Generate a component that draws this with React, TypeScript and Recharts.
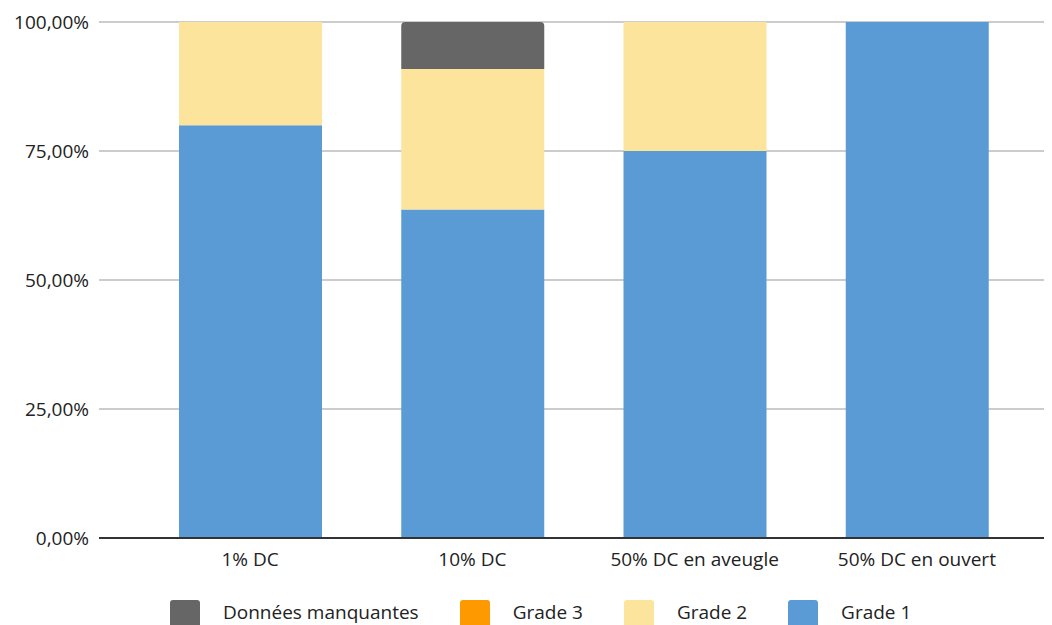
import { Bar, BarChart, CartesianGrid, Legend, XAxis, YAxis } from "recharts";

const categories = ["1% DC", "10% DC", "50% DC en aveugle", "50% DC en ouvert"];
const grade1 = [80, 63.64, 75, 100];
const grade2 = [20, 27.27, 25, 0];
const grade3 = [0, 0, 0, 0];
const missing = [0, 9.09, 0, 0];
const yTicks = [0, 25, 50, 75, 100];

const data = categories.map((name, i) => ({
  name,
  grade1: grade1[i],
  grade2: grade2[i],
  grade3: grade3[i],
  missing: missing[i],
}));

const FONT = "'Open Sans', 'DejaVu Sans', sans-serif";
const TEXT = "#222222";

const legendItems = [
  { label: "Données manquantes", color: "#666666" },
  { label: "Grade 3", color: "#ff9900" },
  { label: "Grade 2", color: "#fde49c" },
  { label: "Grade 1", color: "#5b9bd5" },
];

const formatPercent = (v: number) => `${v.toFixed(2).replace(".", ",")}%`;

function LegendBlock() {
  return (
    <div
      style={{
        height: 25,
        display: "flex",
        justifyContent: "flex-start",
        alignItems: "flex-start",
        gap: 41,
        paddingLeft: 170,
        fontFamily: FONT,
        fontSize: 19,
        color: TEXT,
        overflow: "visible",
      }}
    >
      {legendItems.map((item) => (
        <div key={item.label} style={{ display: "flex", alignItems: "flex-start", gap: 23 }}>
          <div style={{ width: 30, height: 30, borderRadius: 3, background: item.color }} />
          <span style={{ lineHeight: "24px", whiteSpace: "nowrap" }}>{item.label}</span>
        </div>
      ))}
    </div>
  );
}

export default function App() {
  return (
    <div style={{ width: 1052, height: 625, background: "#ffffff", overflow: "hidden" }}>
      <style>{`body { margin: 0; }`}</style>
      <BarChart
        width={1052}
        height={625}
        data={data}
        margin={{ top: 22, right: 8, left: 0, bottom: 0 }}
        barSize={143}
      >
        <CartesianGrid vertical={false} stroke="#cccccc" strokeWidth={2} />
        <XAxis
          dataKey="name"
          padding={{ left: 40, right: 16 }}
          height={62}
          tickSize={0}
          tickMargin={15}
          axisLine={{ stroke: "#333333", strokeWidth: 2 }}
          tick={{ fill: TEXT, fontSize: 19, fontFamily: FONT }}
        />
        <YAxis
          width={99}
          domain={[0, 100]}
          ticks={yTicks}
          tickFormatter={formatPercent}
          axisLine={false}
          tickLine={false}
          tickSize={0}
          tickMargin={10}
          tick={{ fill: TEXT, fontSize: 19, fontFamily: FONT }}
        />
        <Legend verticalAlign="bottom" content={() => <LegendBlock />} />
        <Bar dataKey="grade1" name="Grade 1" stackId="a" fill="#5b9bd5" isAnimationActive={false} />
        <Bar dataKey="grade2" name="Grade 2" stackId="a" fill="#fde49c" isAnimationActive={false} />
        <Bar dataKey="grade3" name="Grade 3" stackId="a" fill="#ff9900" isAnimationActive={false} />
        <Bar
          dataKey="missing"
          name="Données manquantes"
          stackId="a"
          fill="#666666"
          radius={[4, 4, 0, 0]}
          isAnimationActive={false}
        />
      </BarChart>
    </div>
  );
}
